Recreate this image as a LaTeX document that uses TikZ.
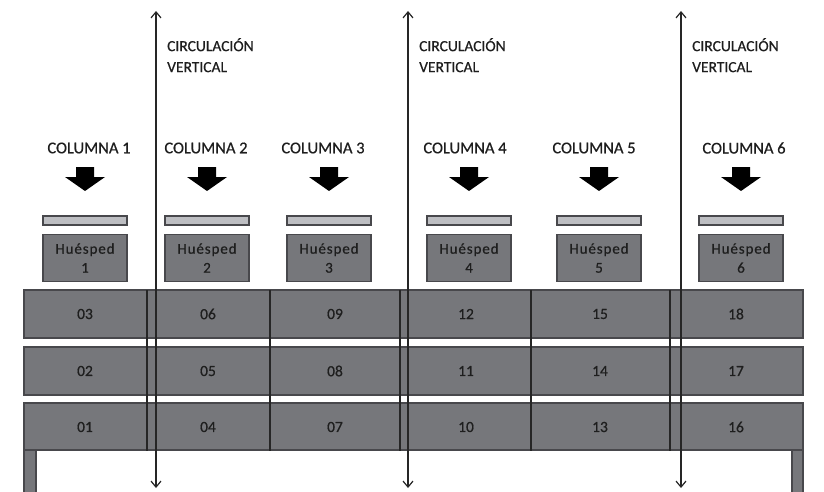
\documentclass[tikz,border=0pt]{standalone}
\usepackage{fontspec}
\setmainfont{Carlito}
\usetikzlibrary{arrows.meta}
\definecolor{shelf}{HTML}{76777B}
\definecolor{shelfline}{HTML}{48484C}
\definecolor{barfill}{HTML}{BDBEC2}
\definecolor{txt}{HTML}{1E1E1E}
\begin{document}
\begin{tikzpicture}[x=1pt,y=-1pt,
  lbl/.style={font=\addfontfeatures{FakeBold=0.6}\fontsize{16.5}{19}\selectfont, text=txt, inner sep=0pt},
  guest/.style={draw=shelfline, line width=1.8pt, fill=shelf, minimum width=84pt, minimum height=47pt, inner sep=0pt, align=center, font=\addfontfeatures{LetterSpace=6,FakeBold=0.6}\fontsize{15}{20}\selectfont, text=txt},
  topbar/.style={draw=shelfline, line width=1.8pt, fill=barfill, minimum width=84pt, minimum height=9pt, inner sep=0pt},
  row/.style={draw=shelfline, line width=1.8pt, fill=shelf},
  cell/.style={font=\addfontfeatures{FakeBold=0.6}\fontsize{15.5}{19}\selectfont, text=txt, inner sep=0pt},
  divider/.style={line width=1.2pt, draw=black!85},
  circ/.style={line width=1.2pt, draw=black!85, {Straight Barb[length=6pt,width=10pt]}-{Straight Barb[length=6pt,width=10pt]}},
  downarrow/.style={fill=black}
]
\useasboundingbox (0,0) rectangle (824,492);

% legs
\fill[shelf, draw=shelfline, line width=1.2pt] (24,450) rectangle (36,494);
\fill[shelf, draw=shelfline, line width=1.2pt] (792,450) rectangle (803,494);

% rows
\draw[row] (24,290) rectangle (803,338);
\draw[row] (24,347) rectangle (803,395);
\draw[row] (24,403) rectangle (803,450);

% dividers
\foreach \x/\n in {147/a,270/b,400/c,531/d,670/e}{
  \coordinate (dt\n) at (\x,290);
  \coordinate (db\n) at (\x,451);
  \draw[divider] (dt\n) -- (db\n);
}

% cells
\foreach \x/\a/\b/\c [count=\i] in {85/03/02/01, 208/06/05/04, 335/09/08/07, 466/12/11/10, 600/15/14/13, 736/18/17/16}{
  \node[cell] (c\i a) at (\x,314) {\a};
  \node[cell] (c\i b) at (\x,371) {\b};
  \node[cell] (c\i c) at (\x,427) {\c};
}

% guests, bars, arrows, labels
\foreach \x/\lx [count=\i] in {85/89, 207/206, 329/323, 469/465, 599/594, 741/744}{
  \node[topbar] (bar\i) at (\x,220.5) {};
  \node[guest] (g\i) at (\x,258) {Huésped\\[-1pt]\i};
  \node[lbl] (col\i) at (\lx,148) {COLUMNA \i};
  \fill[downarrow] (\x-9,167) -- (\x+9,167) -- (\x+9,177) -- (\x+20,177) -- (\x,191) -- (\x-20,177) -- (\x-9,177) -- cycle;
}

% vertical circulation
\foreach \x [count=\i] in {156,408,681}{
  \coordinate (vt\i) at (\x,11);
  \coordinate (vb\i) at (\x,488);
  \draw[circ] (vb\i) -- (vt\i);
  \node[lbl, anchor=north west, align=left, font=\addfontfeatures{FakeBold=0.6}\fontsize{15.5}{21}\selectfont] (cv\i) at (\x+11,38) {CIRCULACIÓN\\VERTICAL};
}
\end{tikzpicture}
\end{document}
